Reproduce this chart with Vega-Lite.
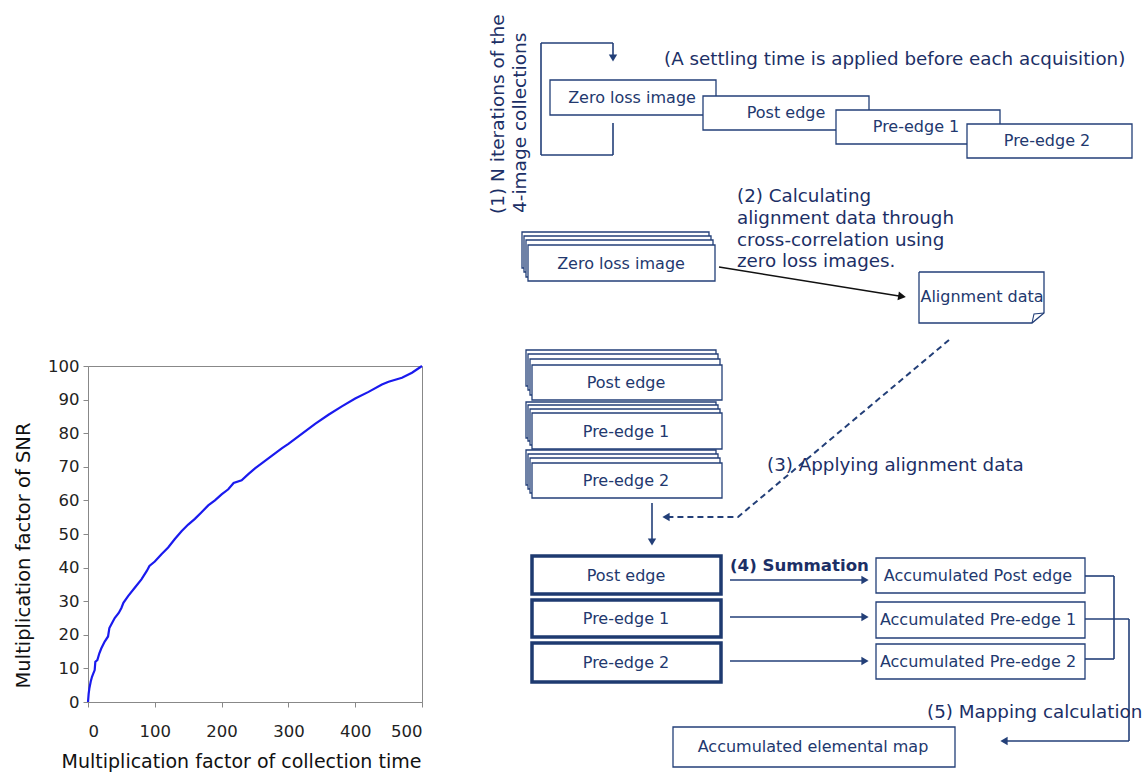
{
  "$schema": "https://vega.github.io/schema/vega-lite/v6.json",
  "padding": {"left": 13, "top": 0, "right": 0, "bottom": 0},
  "background": "white",
  "config": {"view": {"stroke": null}, "font": "DejaVu Sans"},
  "datasets": {
    "curve": [
      {"t": 0, "snr": 0}, {"t": 1, "snr": 2.5}, {"t": 2, "snr": 4}, {"t": 4, "snr": 6}, {"t": 6, "snr": 7.5}, {"t": 8, "snr": 8.5},
      {"t": 10, "snr": 9.5}, {"t": 11, "snr": 12}, {"t": 14, "snr": 12.5}, {"t": 17, "snr": 14.5}, {"t": 20, "snr": 16},
      {"t": 25, "snr": 18}, {"t": 30, "snr": 19.5}, {"t": 32, "snr": 22}, {"t": 36, "snr": 23.5}, {"t": 40, "snr": 25},
      {"t": 46, "snr": 26.5}, {"t": 50, "snr": 28}, {"t": 53, "snr": 29.5}, {"t": 60, "snr": 31.5}, {"t": 70, "snr": 34},
      {"t": 80, "snr": 36.5}, {"t": 88, "snr": 39}, {"t": 92, "snr": 40.5}, {"t": 100, "snr": 41.8}, {"t": 110, "snr": 44},
      {"t": 120, "snr": 46}, {"t": 130, "snr": 48.5}, {"t": 140, "snr": 50.8}, {"t": 150, "snr": 52.8}, {"t": 160, "snr": 54.5},
      {"t": 170, "snr": 56.5}, {"t": 180, "snr": 58.5}, {"t": 190, "snr": 60}, {"t": 200, "snr": 61.8}, {"t": 210, "snr": 63.3},
      {"t": 218, "snr": 65.2}, {"t": 230, "snr": 66}, {"t": 240, "snr": 67.8}, {"t": 250, "snr": 69.5}, {"t": 260, "snr": 71},
      {"t": 270, "snr": 72.5}, {"t": 280, "snr": 74}, {"t": 290, "snr": 75.5}, {"t": 300, "snr": 76.8}, {"t": 320, "snr": 79.8},
      {"t": 340, "snr": 82.8}, {"t": 360, "snr": 85.5}, {"t": 380, "snr": 88}, {"t": 400, "snr": 90.3}, {"t": 420, "snr": 92.3},
      {"t": 440, "snr": 94.5}, {"t": 450, "snr": 95.3}, {"t": 470, "snr": 96.5}, {"t": 485, "snr": 98}, {"t": 500, "snr": 100}
    ],
    "boxes": [
      {"x": 549, "x2": 715, "y": 80, "y2": 115},
      {"x": 702, "x2": 868, "y": 96, "y2": 130},
      {"x": 835, "x2": 999, "y": 110, "y2": 144},
      {"x": 966, "x2": 1131, "y": 124, "y2": 158},
      {"x": 521, "x2": 708, "y": 232, "y2": 268},
      {"x": 523, "x2": 710, "y": 236, "y2": 272},
      {"x": 525, "x2": 712, "y": 240, "y2": 277},
      {"x": 527, "x2": 714, "y": 245, "y2": 281},
      {"x": 525, "x2": 715, "y": 350, "y2": 386},
      {"x": 527, "x2": 717, "y": 354, "y2": 390},
      {"x": 529, "x2": 719, "y": 359, "y2": 395},
      {"x": 531, "x2": 721, "y": 365, "y2": 400},
      {"x": 525, "x2": 715, "y": 402, "y2": 438},
      {"x": 527, "x2": 717, "y": 405, "y2": 441},
      {"x": 529, "x2": 719, "y": 409, "y2": 445},
      {"x": 531, "x2": 721, "y": 413, "y2": 449},
      {"x": 525, "x2": 715, "y": 450, "y2": 485},
      {"x": 527, "x2": 717, "y": 454, "y2": 489},
      {"x": 529, "x2": 719, "y": 458, "y2": 493},
      {"x": 531, "x2": 721, "y": 463, "y2": 498},
      {"x": 875, "x2": 1084, "y": 558, "y2": 593},
      {"x": 875, "x2": 1084, "y": 602, "y2": 638},
      {"x": 875, "x2": 1084, "y": 644, "y2": 679},
      {"x": 672, "x2": 954, "y": 727, "y2": 767}
    ],
    "thickBoxes": [
      {"x": 531, "x2": 720, "y": 556, "y2": 594},
      {"x": 531, "x2": 720, "y": 600, "y2": 637},
      {"x": 531, "x2": 720, "y": 643, "y2": 682}
    ],
    "segments": [
      {"x": 540, "x2": 612, "y": 43, "y2": 43},
      {"x": 612, "x2": 612, "y": 43, "y2": 56},
      {"x": 540, "x2": 540, "y": 43, "y2": 155},
      {"x": 540, "x2": 612, "y": 155, "y2": 155},
      {"x": 612, "x2": 612, "y": 155, "y2": 123},
      {"x": 651, "x2": 651, "y": 503, "y2": 540},
      {"x": 729, "x2": 862, "y": 580, "y2": 580},
      {"x": 729, "x2": 862, "y": 617, "y2": 617},
      {"x": 729, "x2": 862, "y": 661, "y2": 661},
      {"x": 1084, "x2": 1113, "y": 576, "y2": 576},
      {"x": 1113, "x2": 1113, "y": 576, "y2": 659},
      {"x": 1113, "x2": 1084, "y": 659, "y2": 659},
      {"x": 1084, "x2": 1128, "y": 619, "y2": 619},
      {"x": 1128, "x2": 1128, "y": 619, "y2": 741},
      {"x": 1128, "x2": 1006, "y": 741, "y2": 741}
    ],
    "blackSegments": [
      {"x": 718, "x2": 898, "y": 267, "y2": 296}
    ],
    "dashPath": [
      {"i": 0, "x": 948, "y": 340},
      {"i": 1, "x": 737, "y": 517},
      {"i": 2, "x": 668, "y": 517}
    ],
    "notePath": [
      {"i": 0, "x": 918, "y": 272},
      {"i": 1, "x": 1043, "y": 272},
      {"i": 2, "x": 1043, "y": 313},
      {"i": 3, "x": 1031, "y": 323},
      {"i": 4, "x": 918, "y": 323},
      {"i": 5, "x": 918, "y": 272}
    ],
    "noteFold": [
      {"i": 0, "x": 1031, "y": 323},
      {"i": 1, "x": 1033, "y": 314},
      {"i": 2, "x": 1043, "y": 313}
    ],
    "headsDown": [
      {"x": 612, "y": 58},
      {"x": 651, "y": 542}
    ],
    "headsRight": [
      {"x": 864, "y": 580},
      {"x": 864, "y": 617},
      {"x": 864, "y": 661}
    ],
    "headsLeft": [
      {"x": 1003, "y": 741},
      {"x": 665, "y": 517}
    ],
    "headsBlack": [
      {"x": 901, "y": 296.5}
    ],
    "boxText": [
      {"x": 631, "y": 98, "label": "Zero loss image"},
      {"x": 785, "y": 113, "label": "Post edge"},
      {"x": 915, "y": 127, "label": "Pre-edge 1"},
      {"x": 1046, "y": 141, "label": "Pre-edge 2"},
      {"x": 620, "y": 264, "label": "Zero loss image"},
      {"x": 981, "y": 297, "label": "Alignment data"},
      {"x": 625, "y": 383, "label": "Post edge"},
      {"x": 625, "y": 432, "label": "Pre-edge 1"},
      {"x": 625, "y": 481, "label": "Pre-edge 2"},
      {"x": 625, "y": 576, "label": "Post edge"},
      {"x": 625, "y": 619, "label": "Pre-edge 1"},
      {"x": 625, "y": 663, "label": "Pre-edge 2"},
      {"x": 977, "y": 576, "label": "Accumulated Post edge"},
      {"x": 977, "y": 620, "label": "Accumulated  Pre-edge 1"},
      {"x": 977, "y": 662, "label": "Accumulated Pre-edge 2"},
      {"x": 812, "y": 747, "label": "Accumulated elemental map"}
    ],
    "stepText": [
      {"x": 663, "y": 60, "label": "(A settling time is applied before each acquisition)"},
      {"x": 736, "y": 197, "label": "(2) Calculating"},
      {"x": 736, "y": 219, "label": "alignment data through"},
      {"x": 736, "y": 241, "label": "cross-correlation using"},
      {"x": 736, "y": 262, "label": "zero loss images."},
      {"x": 766, "y": 466, "label": "(3) Applying alignment data"},
      {"x": 926, "y": 713, "label": "(5) Mapping calculation"}
    ],
    "stepTextBold": [
      {"x": 729, "y": 566, "label": "(4) Summation"}
    ],
    "rotText": [
      {"x": 497, "y": 214, "label": "(1) N iterations of the"},
      {"x": 519, "y": 213, "label": "4-image collections"}
    ]
  },
  "spacing": 54,
  "hconcat": [
    {
      "spacing": 10,
      "vconcat": [
        {
          "width": 334,
          "height": 347,
          "data": {"values": []},
          "mark": "point",
          "encoding": {}
        },
        {
          "width": 334,
          "height": 336,
          "view": {"stroke": "#888888", "strokeWidth": 1},
          "data": {"name": "curve"},
          "mark": {"type": "line", "color": "#1a1aee", "strokeWidth": 2.2, "interpolate": "linear"},
          "encoding": {
            "x": {
              "field": "t", "type": "quantitative",
              "scale": {"domain": [0, 500], "nice": false},
              "axis": {
                "values": [0, 100, 200, 300, 400, 500], "grid": false,
                "title": "Multiplication factor of collection time",
                "tickSize": 5, "tickColor": "#888888", "domainColor": "#888888",
                "labelFontSize": 16.5, "labelPadding": 16, "labelColor": "#222222", "labelFont": "DejaVu Sans",
                "titleFontSize": 19, "titleFontWeight": "normal", "titlePadding": 13, "titleColor": "#111111", "titleFont": "DejaVu Sans",
                "titleX": 153, "titleAlign": "center"
              }
            },
            "y": {
              "field": "snr", "type": "quantitative",
              "scale": {"domain": [0, 100], "nice": false},
              "axis": {
                "values": [0, 10, 20, 30, 40, 50, 60, 70, 80, 90, 100], "grid": false,
                "title": "Multiplication factor of SNR",
                "tickSize": 5, "tickColor": "#888888", "domainColor": "#888888",
                "labelFontSize": 16.5, "labelPadding": 4, "labelColor": "#222222", "labelFont": "DejaVu Sans",
                "titleFontSize": 19.5, "titleFontWeight": "normal", "titlePadding": 14, "titleColor": "#111111", "titleFont": "DejaVu Sans",
                "titleY": 189, "titleAlign": "center"
              }
            }
          }
        }
      ]
    },
    {
      "width": 662,
      "height": 773,
      "layer": [
        {
          "data": {"name": "boxes"},
          "mark": {"type": "rect", "fill": "white", "stroke": "#233f78", "strokeWidth": 1.3},
          "encoding": {
            "x": {"field": "x", "type": "quantitative", "scale": {"domain": [480, 1142], "nice": false, "zero": false}, "axis": null},
            "x2": {"field": "x2"},
            "y": {"field": "y", "type": "quantitative", "scale": {"domain": [0, 773], "nice": false, "zero": false, "reverse": true}, "axis": null},
            "y2": {"field": "y2"}
          }
        },
        {
          "data": {"name": "thickBoxes"},
          "mark": {"type": "rect", "fill": "white", "stroke": "#1e3a70", "strokeWidth": 3.5},
          "encoding": {
            "x": {"field": "x", "type": "quantitative", "axis": null},
            "x2": {"field": "x2"},
            "y": {"field": "y", "type": "quantitative", "axis": null},
            "y2": {"field": "y2"}
          }
        },
        {
          "data": {"name": "segments"},
          "mark": {"type": "rule", "color": "#233f78", "strokeWidth": 1.6},
          "encoding": {
            "x": {"field": "x", "type": "quantitative", "axis": null},
            "x2": {"field": "x2"},
            "y": {"field": "y", "type": "quantitative", "axis": null},
            "y2": {"field": "y2"}
          }
        },
        {
          "data": {"name": "blackSegments"},
          "mark": {"type": "rule", "color": "#111111", "strokeWidth": 1.5},
          "encoding": {
            "x": {"field": "x", "type": "quantitative", "axis": null},
            "x2": {"field": "x2"},
            "y": {"field": "y", "type": "quantitative", "axis": null},
            "y2": {"field": "y2"}
          }
        },
        {
          "data": {"name": "dashPath"},
          "mark": {"type": "line", "color": "#233f78", "strokeWidth": 2, "strokeDash": [6, 4]},
          "encoding": {
            "x": {"field": "x", "type": "quantitative", "axis": null},
            "y": {"field": "y", "type": "quantitative", "axis": null},
            "order": {"field": "i"}
          }
        },
        {
          "data": {"name": "notePath"},
          "mark": {"type": "line", "color": "#233f78", "strokeWidth": 1.3},
          "encoding": {
            "x": {"field": "x", "type": "quantitative", "axis": null},
            "y": {"field": "y", "type": "quantitative", "axis": null},
            "order": {"field": "i"}
          }
        },
        {
          "data": {"name": "noteFold"},
          "mark": {"type": "line", "color": "#233f78", "strokeWidth": 1.1},
          "encoding": {
            "x": {"field": "x", "type": "quantitative", "axis": null},
            "y": {"field": "y", "type": "quantitative", "axis": null},
            "order": {"field": "i"}
          }
        },
        {
          "data": {"name": "headsDown"},
          "mark": {"type": "point", "shape": "triangle-down", "filled": true, "color": "#233f78", "size": 70, "opacity": 1},
          "encoding": {
            "x": {"field": "x", "type": "quantitative", "axis": null},
            "y": {"field": "y", "type": "quantitative", "axis": null}
          }
        },
        {
          "data": {"name": "headsRight"},
          "mark": {"type": "point", "shape": "triangle-right", "filled": true, "color": "#233f78", "size": 70, "opacity": 1},
          "encoding": {
            "x": {"field": "x", "type": "quantitative", "axis": null},
            "y": {"field": "y", "type": "quantitative", "axis": null}
          }
        },
        {
          "data": {"name": "headsLeft"},
          "mark": {"type": "point", "shape": "triangle-left", "filled": true, "color": "#233f78", "size": 70, "opacity": 1},
          "encoding": {
            "x": {"field": "x", "type": "quantitative", "axis": null},
            "y": {"field": "y", "type": "quantitative", "axis": null}
          }
        },
        {
          "data": {"name": "headsBlack"},
          "mark": {"type": "point", "shape": "triangle-right", "filled": true, "color": "#111111", "size": 80, "angle": 9, "opacity": 1},
          "encoding": {
            "x": {"field": "x", "type": "quantitative", "axis": null},
            "y": {"field": "y", "type": "quantitative", "axis": null}
          }
        },
        {
          "data": {"name": "boxText"},
          "mark": {"type": "text", "font": "DejaVu Sans", "fontSize": 16, "color": "#22386e", "align": "center", "baseline": "middle"},
          "encoding": {
            "x": {"field": "x", "type": "quantitative", "axis": null},
            "y": {"field": "y", "type": "quantitative", "axis": null},
            "text": {"field": "label"}
          }
        },
        {
          "data": {"name": "stepText"},
          "mark": {"type": "text", "font": "DejaVu Sans", "fontSize": 18.3, "color": "#1c2f66", "align": "left", "baseline": "middle"},
          "encoding": {
            "x": {"field": "x", "type": "quantitative", "axis": null},
            "y": {"field": "y", "type": "quantitative", "axis": null},
            "text": {"field": "label"}
          }
        },
        {
          "data": {"name": "stepTextBold"},
          "mark": {"type": "text", "font": "DejaVu Sans", "fontSize": 16.6, "fontWeight": "bold", "color": "#1c2f66", "align": "left", "baseline": "middle"},
          "encoding": {
            "x": {"field": "x", "type": "quantitative", "axis": null},
            "y": {"field": "y", "type": "quantitative", "axis": null},
            "text": {"field": "label"}
          }
        },
        {
          "data": {"name": "rotText"},
          "mark": {"type": "text", "font": "DejaVu Sans", "fontSize": 18.5, "color": "#1c2f66", "align": "left", "baseline": "middle", "angle": 270},
          "encoding": {
            "x": {"field": "x", "type": "quantitative", "axis": null},
            "y": {"field": "y", "type": "quantitative", "axis": null},
            "text": {"field": "label"}
          }
        }
      ]
    }
  ]
}
